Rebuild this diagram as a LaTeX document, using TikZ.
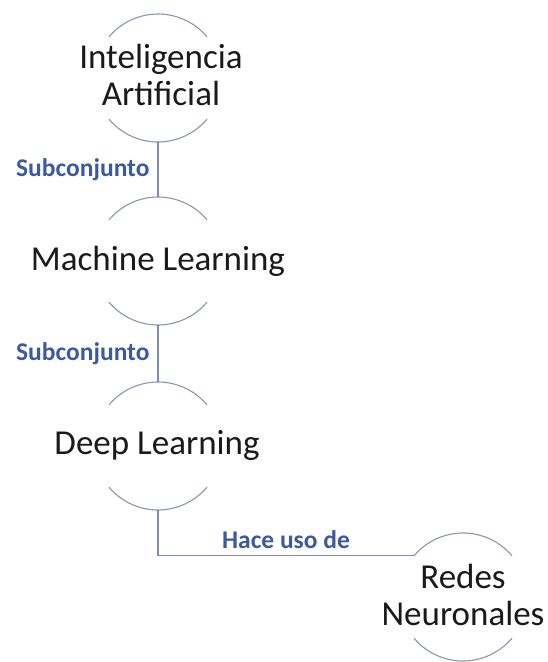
\documentclass[tikz,border=0pt]{standalone}
\usepackage{fontspec}
\setmainfont{Carlito}
\definecolor{arccol}{HTML}{8C96B0}
\definecolor{linecol}{HTML}{7C8CC0}
\definecolor{labcol}{HTML}{3D5AA0}
\definecolor{txtcol}{HTML}{1A1A1A}
\begin{document}
\begin{tikzpicture}[x=1pt,y=-1pt,
  circ/.style={circle,minimum size=128pt,inner sep=0pt,outer sep=0pt,draw=none},
  txt/.style={font=\fontsize{35}{37}\selectfont,text=txtcol,align=center,inner sep=0pt},
  arcline/.style={draw=arccol,line width=1.1pt},
  conn/.style={draw=linecol,line width=1.1pt},
  lab/.style={font=\fontsize{25.5}{27}\selectfont\bfseries,text=labcol,inner sep=0pt}]
\useasboundingbox (0,0) rectangle (548,662);
\fill[white] (0,0) rectangle (548,662);
% circles (invisible nodes)
\node[circ] (ia) at (158,78) {};
\node[circ] (ml) at (158,261) {};
\node[circ] (dl) at (158,446) {};
\node[circ] (rn) at (463,597) {};
% texts
\node[txt,anchor=center] (tia) at (161,75) {Inteligencia\\Artificial};
\node[txt,anchor=base] (tml) at (158,270) {Machine Learning};
\node[txt,anchor=base] (tdl) at (157,454) {Deep Learning};
\node[txt,anchor=center] (trn) at (463,595) {Redes\\Neuronales};
% arcs
\foreach \n in {ia,ml,dl,rn}{
  \draw[arcline] (\n.40) arc[start angle=40,end angle=140,radius=64pt];
  \draw[arcline] (\n.220) arc[start angle=220,end angle=320,radius=64pt];
}
% connectors
\draw[conn] (ia.south) -- node[lab,left=8pt] {Subconjunto} (ml.north);
\draw[conn] (ml.south) -- node[lab,left=8pt] {Subconjunto} (dl.north);
\draw[conn] (dl.south) |- node[lab,pos=0.75,above=7pt] {Hace uso de} (rn.140);
\end{tikzpicture}
\end{document}
